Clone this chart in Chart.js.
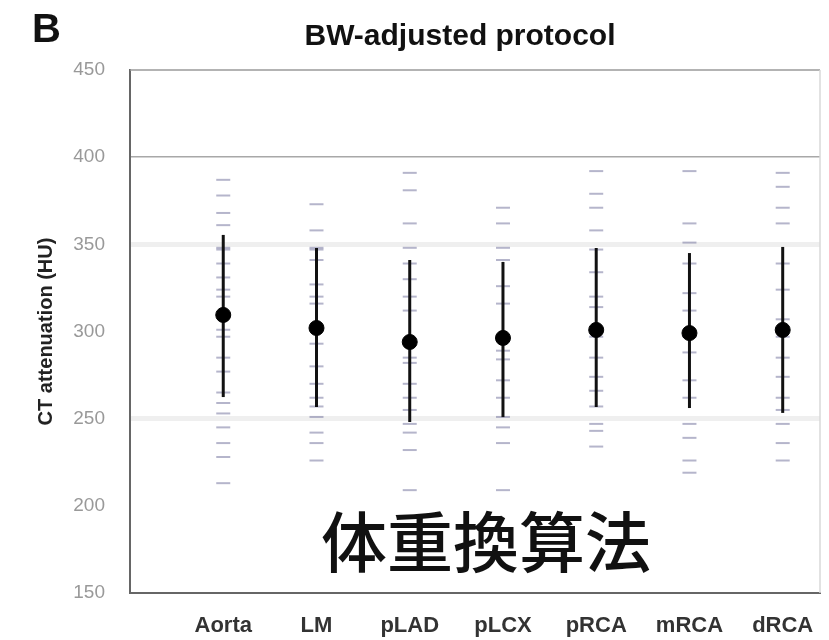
<!DOCTYPE html>
<html>
<head>
<meta charset="utf-8">
<script src="https://cdn.jsdelivr.net/npm/chart.js@4"></script>
<style>
  body { margin: 0; background: #fff; }
  #grafico { display: block; }
</style>
</head>
<body>
<canvas id="grafico" width="829" height="640"></canvas>
<script>
// datos (HU)
const categories = ['Aorta', 'LM', 'pLAD', 'pLCX', 'pRCA', 'mRCA', 'dRCA'];
const yTicks = [150, 200, 250, 300, 350, 400, 450];
const means = [309.5, 302, 294, 296.3, 300.9, 299.1, 300.9];
const upper = [355.4, 347.9, 341, 339.9, 347.9, 345, 348.5];
const lower = [262.4, 256.7, 248.1, 250.9, 256.7, 256.1, 253.3];

// valores individuales de cada vaso
const aortaVals = [387, 378, 368, 361, 348, 347, 339, 331, 324, 320, 301, 297, 285, 277, 265, 259, 253, 245, 236, 228, 213];
const lmVals = [373, 358, 348, 347, 341, 327, 320, 316, 301, 293, 280, 270, 262, 257, 251, 242, 236, 226];
const pladVals = [391, 381, 362, 348, 339, 330, 320, 312, 285, 282, 270, 262, 255, 247, 242, 232, 209];
const plcxVals = [371, 362, 348, 341, 326, 316, 289, 284, 272, 262, 251, 245, 236, 209];
const prcaVals = [392, 379, 371, 358, 347, 334, 320, 314, 297, 285, 274, 266, 257, 247, 243, 234];
const mrcaVals = [392, 362, 351, 339, 322, 312, 297, 288, 272, 262, 247, 239, 226, 219];
const drcaVals = [391, 383, 371, 362, 339, 324, 307, 297, 285, 274, 262, 255, 247, 236, 226];
const rawVals = [aortaVals, lmVals, pladVals, plcxVals, prcaVals, mrcaVals, drcaVals];

const TITULO = 'BW-adjusted protocol';
const PANEL = 'B';
const TEXTO_JP = '体重換算法';

const datasets = [];

// puntos individuales (gris claro)
const puntos = [];
rawVals.forEach((vals, i) => {
  vals.forEach(v => puntos.push({ x: i + 1, y: v }));
});
datasets.push({
  type: 'scatter',
  data: puntos,
  pointStyle: 'line',
  pointRadius: 7,
  borderColor: 'rgba(120,120,160,0.55)',
  borderWidth: 2,
  backgroundColor: 'rgba(120,120,160,0.55)',
  order: 3
});

// barras de error
categories.forEach((c, i) => {
  datasets.push({
    type: 'line',
    data: [{ x: i + 1, y: lower[i] }, { x: i + 1, y: upper[i] }],
    borderColor: '#111',
    borderWidth: 3,
    pointRadius: 0,
    order: 2
  });
});

// medias
datasets.push({
  type: 'scatter',
  data: means.map((m, i) => ({ x: i + 1, y: m })),
  pointStyle: 'circle',
  pointRadius: 7.5,
  backgroundColor: '#000',
  borderColor: '#000',
  order: 1
});

const marco = {
  id: 'marco',
  beforeDatasetsDraw(chart) {
    const { ctx, chartArea: a } = chart;
    ctx.save();
    ctx.strokeStyle = '#9a9a9a';
    ctx.lineWidth = 1.5;
    ctx.beginPath();
    ctx.moveTo(a.left, a.top);
    ctx.lineTo(a.right, a.top);
    ctx.stroke();
    ctx.strokeStyle = '#d8d8d8';
    ctx.beginPath();
    ctx.moveTo(a.right, a.top);
    ctx.lineTo(a.right, a.bottom);
    ctx.stroke();
    ctx.restore();
  },
  afterDraw(chart) {
    const { ctx } = chart;
    ctx.save();
    ctx.fillStyle = '#111';
    ctx.textBaseline = 'middle';
    ctx.textAlign = 'left';
    ctx.font = 'bold 40px "Liberation Sans", Arial, sans-serif';
    ctx.fillText(PANEL, 32, 31);
    ctx.textAlign = 'center';
    ctx.font = 'bold 30px "Liberation Sans", Arial, sans-serif';
    ctx.fillText(TITULO, 460, 37);
    ctx.font = '500 66px "Noto Sans CJK JP", sans-serif';
    ctx.fillText(TEXTO_JP, 486, 542);
    ctx.restore();
  }
};

new Chart(document.getElementById('grafico'), {
  data: { datasets: datasets },
  options: {
    responsive: false,
    animation: false,
    layout: { padding: { top: 70, right: 9, left: 0, bottom: 0 } },
    plugins: { legend: { display: false }, tooltip: { enabled: false } },
    scales: {
      x: {
        type: 'linear',
        min: 0,
        max: 7.4,
        afterFit: s => { s.height = 47; },
        afterBuildTicks: s => { s.ticks = categories.map((c, i) => ({ value: i + 1 })); },
        grid: { display: false },
        border: { display: true, color: '#666', width: 2 },
        ticks: {
          padding: 12,
          color: '#333',
          font: { family: '"Liberation Sans", Arial, sans-serif', size: 22, weight: 'bold' },
          callback: v => categories[v - 1] || ''
        }
      },
      y: {
        min: 150,
        max: 450,
        afterFit: s => { s.width = 130; },
        afterBuildTicks: s => { s.ticks = yTicks.map(v => ({ value: v })); },
        border: { display: true, color: '#666', width: 2 },
        grid: {
          drawTicks: false,
          color: c => c.tick.value === 400 ? '#a8a8a8' : (c.tick.value === 350 || c.tick.value === 250 ? '#efefef' : 'rgba(0,0,0,0)'),
          lineWidth: c => c.tick.value === 400 ? 1.5 : (c.tick.value === 350 || c.tick.value === 250 ? 5 : 0)
        },
        ticks: {
          padding: 25,
          color: '#999',
          font: { family: '"Liberation Sans", Arial, sans-serif', size: 19 }
        },
        title: {
          display: true,
          text: 'CT attenuation (HU)',
          color: '#222',
          padding: { top: 34, bottom: 0 },
          font: { family: '"Liberation Sans", Arial, sans-serif', size: 20, weight: 'bold' }
        }
      }
    }
  },
  plugins: [marco]
});
</script>
</body>
</html>
